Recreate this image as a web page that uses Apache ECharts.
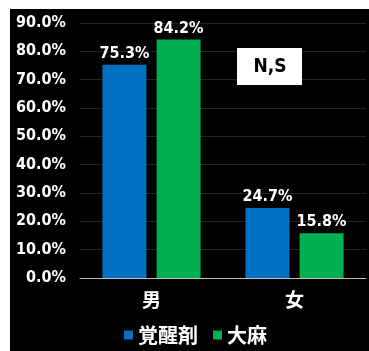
<!DOCTYPE html>
<html>
<head>
<meta charset="utf-8">
<script src="https://cdn.jsdelivr.net/npm/echarts@6/dist/echarts.min.js"></script>
<style>
  html, body { margin: 0; padding: 0; background: #fff; }
  #chart { position: absolute; left: 10px; top: 9px; width: 359px; height: 342px; background: #000; }
</style>
</head>
<body>
<div id="chart"></div>
<script>
// Categories (sex) and percentage values per substance
const categories = ['男', '女'];
const stimulants = [75.3, 24.7];   // 覚醒剤
const cannabis = [84.2, 15.8];     // 大麻
const seriesNames = ['覚醒剤', '大麻'];
const yTicks = [0, 10, 20, 30, 40, 50, 60, 70, 80, 90];
const noteText = 'N,S';

const latin = '"DejaVu Sans Condensed", "Liberation Sans Narrow", sans-serif';
const cjk = '"Noto Sans CJK JP", sans-serif';

const chart = echarts.init(document.getElementById('chart'), null, { renderer: 'canvas' });

const labelStyle = {
  show: true,
  position: 'top',
  distance: 3,
  color: '#fff',
  fontFamily: latin,
  fontWeight: 'bold',
  fontSize: 16,
  formatter: p => p.value.toFixed(1) + '%'
};

chart.setOption({
  backgroundColor: '#000',
  animation: false,
  grid: { left: 70, right: 3, top: 14, bottom: 73 },
  legend: {
    data: seriesNames,
    left: 109,
    top: 311,
    icon: 'rect',
    itemWidth: 9,
    itemHeight: 9,
    itemGap: 15,
    textStyle: { color: '#fff', fontFamily: cjk, fontWeight: 'bold', fontSize: 20 }
  },
  xAxis: {
    type: 'category',
    data: categories,
    axisLine: { lineStyle: { color: '#bfbfbf', width: 1 } },
    axisTick: { show: false },
    axisLabel: { color: '#fff', fontFamily: cjk, fontWeight: 'bold', fontSize: 19, margin: 12 }
  },
  yAxis: {
    type: 'value',
    min: yTicks[0],
    max: yTicks[yTicks.length - 1],
    interval: 10,
    axisLine: { show: false },
    axisTick: { show: false },
    splitLine: { lineStyle: { color: '#222', width: 1 } },
    axisLabel: {
      color: '#fff',
      fontFamily: latin,
      fontWeight: 'bold',
      fontSize: 16,
      margin: 14,
      formatter: v => v.toFixed(1) + '%'
    }
  },
  series: [
    {
      name: seriesNames[0],
      type: 'bar',
      data: stimulants,
      barWidth: 44,
      barGap: '23%',
      itemStyle: { color: '#0070C0' },
      label: labelStyle
    },
    {
      name: seriesNames[1],
      type: 'bar',
      data: cannabis,
      barWidth: 44,
      itemStyle: { color: '#00B050' },
      label: labelStyle
    }
  ],
  graphic: [
    {
      type: 'group',
      left: 227,
      top: 39,
      z: 100,
      children: [
        { type: 'rect', z: 100, shape: { x: 0, y: 0, width: 65, height: 37 }, style: { fill: '#fff' } },
        {
          type: 'text',
          z: 101,
          style: {
            text: noteText,
            x: 33, y: 19,
            align: 'center', verticalAlign: 'middle',
            fill: '#000',
            font: 'bold 19px ' + latin
          }
        }
      ]
    }
  ]
});
</script>
</body>
</html>
